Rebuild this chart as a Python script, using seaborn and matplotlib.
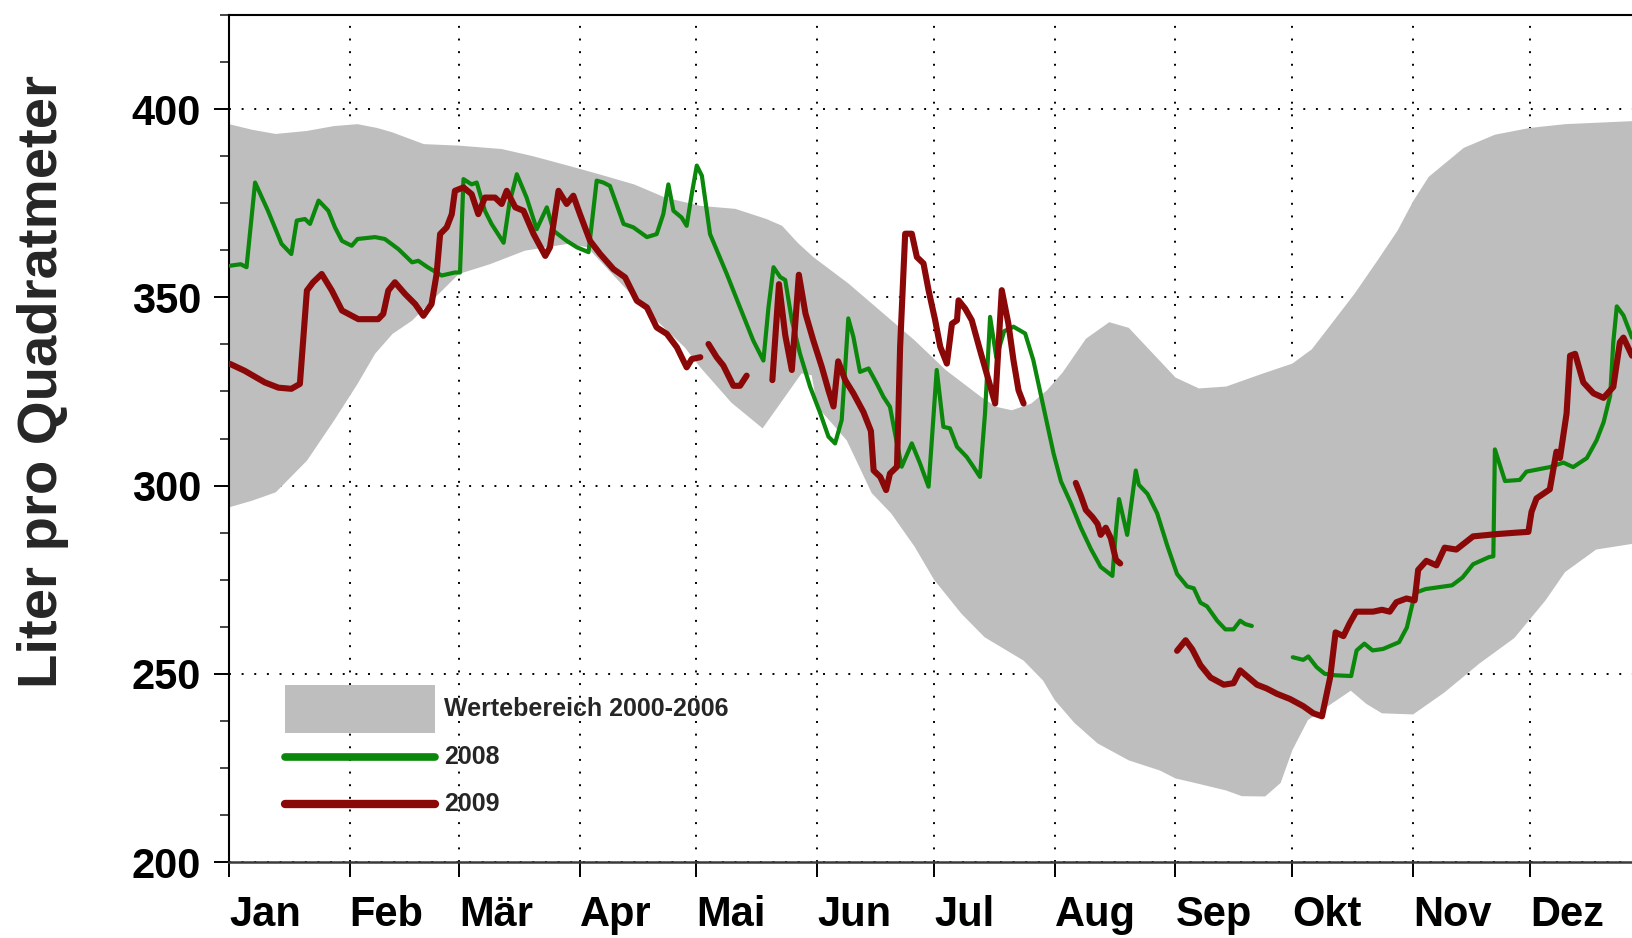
import numpy as np
import pandas as pd
import matplotlib
matplotlib.use("Agg")
import matplotlib.pyplot as plt
from matplotlib.ticker import MultipleLocator, FixedLocator
from matplotlib.patches import Patch
from matplotlib.lines import Line2D
import seaborn as sns

# ---------------- data ----------------
month_days = [0, 31, 59, 90, 120, 151, 181, 212, 243, 273, 304, 334]
month_labels = ["Jan", "Feb", "Mär", "Apr", "Mai", "Jun", "Jul", "Aug", "Sep", "Okt", "Nov", "Dez"]
y_ticks = [200, 250, 300, 350, 400]

band_upper_days = [0, 6, 12, 20, 27, 33, 38, 42, 50, 59, 70, 78, 87, 95, 104, 112, 121, 130, 138, 142,
                   146, 150, 159, 167, 176, 184, 193, 197, 201, 206, 210, 214, 220, 226, 231, 237, 243,
                   249, 256, 265, 273, 278, 283, 289, 295, 300, 304, 308, 317, 325, 334, 343, 360.2]
band_upper_vals = [396, 394.5, 393.4, 394.2, 395.5, 396, 395, 393.8, 390.7, 390.3, 389.4, 387.5, 385,
                   382.7, 380, 376.5, 374.3, 373.5, 370.8, 369, 364.5, 360.7, 353.7, 346.6, 338.6, 330.7,
                   323.6, 320.9, 320, 321.8, 325.3, 330, 339, 343.4, 341.9, 335.3, 328.7, 325.8, 326.3,
                   329.6, 332.4, 336.2, 342.9, 351, 360, 367.7, 375.5, 382, 389.7, 393.2, 395, 396, 396.8]

band_lower_days = [0, 6, 12, 20, 27, 33, 37.5, 42, 47, 52, 59, 67, 76, 87, 92, 100, 108, 117, 121, 129,
                   137, 147, 149.6, 151, 158.6, 165, 170, 176, 181, 188, 194, 204, 209, 212, 217, 223,
                   231, 239, 243, 248, 256, 260, 266, 270, 273, 277, 283, 288, 292, 296, 304, 312, 321,
                   330, 338, 343, 347, 351, 360.2]
band_lower_vals = [294.2, 296, 298.2, 306.6, 317.3, 327, 335, 340.3, 343.8, 349, 356.2, 358.8, 362.4,
                   364.2, 363.3, 354.4, 345.6, 336.7, 331.4, 322, 315.2, 329.8, 329.3, 321, 312, 298,
                   292.6, 283.8, 275, 266, 259.7, 253.5, 248.2, 243, 237, 231.5, 227, 224.3, 222.2, 221,
                   219, 217.5, 217.4, 221, 229.7, 237.7, 242, 245.5, 242, 239.5, 239.2, 245, 252.7,
                   259.5, 269.5, 277, 280, 283, 284.5]

# 2008 (two segments)
g08_days_a = [0.3, 3, 4.5, 6.7, 10, 13.5, 16, 17.4, 19.5, 20.8, 23, 25.5, 27.2, 29, 31.5, 33, 37.5, 40,
              43.5, 47, 48.6, 51, 54.6, 58, 59.3, 60.2, 62.3, 63.6, 65.7, 67.4, 70.5, 72, 73.9, 76.4,
              79, 81.6, 83.3, 86.7, 89.3, 92.3, 94.4, 96.1, 97.8, 101.3, 103.8, 107.3, 109.8, 111.5,
              112.8, 114.1, 116.2, 117.5, 118.8, 120.1, 121.4, 123.5, 127.8, 131.2, 134.6, 137.2,
              138.5, 139.8, 141.5, 142.8, 144.5, 146.6, 149.2, 151.8, 153.9, 155.6, 157.3, 158.2, 159,
              160.3, 162, 164.2, 166.3, 168, 169.7, 171, 172.7, 175.3, 177.4, 179.6, 181.7, 183.4,
              185.1, 186.9, 189.4, 191.1, 192.8, 194.1, 195.4, 197, 199, 201.4, 204.4, 206.5, 209.1,
              211.7, 213.6, 216.1, 218.7, 221.3, 223.8, 226.8, 227.7, 228.5, 230.6, 232.8, 233.6,
              235.8, 238.3, 240.9, 243.4, 246, 247.7, 249.4, 251.1, 253.7, 255.8, 257.9, 259.6,
              260.9, 262.6]
g08_vals_a = [358.4, 358.8, 358, 380.5, 373, 364.2, 361.5, 370.4, 370.8, 369.5, 375.7, 373, 368.6, 365,
              363.7, 365.5, 366, 365.5, 362.8, 359.3, 359.7, 358, 355.8, 356.6, 356.6, 381.4, 380,
              380.5, 373, 369.5, 364.5, 375, 382.7, 376.5, 368.1, 373.9, 367.7, 365, 363.3, 362, 381,
              380.5, 379.6, 369.5, 368.6, 366, 366.8, 372.1, 380, 373, 371.2, 369, 377.4, 385, 382.3,
              366.8, 356.2, 347.3, 338.5, 333.2, 347.3, 358, 355.4, 354.6, 343.9, 335, 326.2, 319.2,
              313, 311.2, 317.4, 331.5, 344.4, 339.5, 330.2, 331.1, 327.1, 323.6, 320.9, 313.8, 305,
              311.2, 305.9, 299.7, 330.7, 315.6, 315.2, 310.3, 307.6, 305, 302.3, 319.2, 344.8, 334,
              341, 342.2, 340.4, 333.3, 320.9, 308.5, 301.1, 295.4, 288.8, 283.1, 278.4, 276, 287.9,
              296.4, 286.9, 304, 300.2, 297.8, 292.6, 284, 276.5, 273.2, 272.7, 268.9, 267.9, 264.1,
              261.8, 261.8, 264.1, 263.2, 262.7]
g08_days_b = [273.1, 275.8, 277.1, 279.2, 281.3, 284, 288.1, 289.5, 291.5, 293.6, 296.3, 300.4, 302.4,
              304.5, 307.2, 314, 316.7, 319.4, 323.5, 324.6, 325, 327.6, 331.4, 333.1, 339.1, 342.6,
              345.1, 348.6, 351.1, 352.9, 354.6, 355.4, 356.3, 358, 360.2]
g08_vals_b = [254.4, 253.7, 254.6, 251.8, 250, 249.6, 249.4, 256.2, 258, 256.2, 256.6, 258.4, 262.3,
              271.5, 272.5, 273.5, 275.6, 279.1, 281, 281.2, 309.6, 301.2, 301.5, 303.7, 304.9, 306.1,
              304.9, 307.3, 312, 316.8, 323.9, 338.1, 347.6, 345.2, 339.3]

# 2009 (five segments)
r09_days_a = [0.3, 4, 9.2, 12.7, 16, 18.2, 20, 21.6, 23.8, 26.4, 29, 33.2, 38.3, 39.6, 40.9, 42.6, 45.2,
              47.8, 49.9, 52, 53.3, 54.2, 55.9, 57.2, 58, 60.2, 62.3, 64, 65.7, 68.3, 70, 71.3, 73.5,
              75.6, 78.2, 81.2, 82.4, 84.6, 86.7, 88.4, 90.1, 92.7, 95.3, 98.7, 101.7, 104.7, 107.3,
              109.8, 112.4, 115, 117.5, 118.8, 121]
r09_vals_a = [332.3, 330.5, 327.4, 326, 325.7, 327, 351.8, 354, 356.2, 351.8, 346.5, 344.2, 344.2,
              345.6, 351.8, 354, 350.9, 348.2, 345.1, 348.2, 356.2, 366.8, 368.6, 372.1, 378.3, 379.2,
              377.4, 372.1, 376.5, 376.5, 374.8, 378.3, 373.9, 373, 366.8, 361, 363.3, 378.3, 374.8,
              377, 372.1, 365, 361.5, 357.5, 355.3, 349.1, 347.3, 342, 340.3, 336.7, 331.4, 333.6,
              334.1]
r09_days_b = [123.1, 125.2, 126.9, 129.5, 131.2, 132.9]
r09_vals_b = [337.6, 334.1, 331.9, 326.5, 326.5, 329.2]
r09_days_c = [139.5, 141.2, 142.8, 144.5, 146.3, 148, 150, 152.2, 153.9, 155.2, 156.4, 158.2, 160.3,
              162.9, 164.8, 165.5, 167.2, 168.7, 169.7, 171.5, 172.3, 173.6, 175.3, 176.6, 178.3,
              179.6, 181.3, 182.6, 184.3, 185.6, 186.9, 187.3, 189, 190.7, 192.8, 195, 196.7, 198.4,
              200.1, 201.4, 202.7, 204]
r09_vals_c = [328, 353.5, 340, 330.7, 356, 345.7, 338.6, 331.5, 325.3, 321, 333, 328, 324.5, 319.5,
              314.5, 304, 302.3, 298.8, 303.2, 305, 336.9, 366.9, 366.9, 360.7, 359, 351.9, 343.9,
              336.9, 332.4, 343, 343.9, 349.2, 347, 343.9, 336, 328, 321.8, 351.9, 343, 333.3, 325.3,
              321.8]
r09_days_d = [217.4, 218.7, 220, 221.7, 223, 223.8, 225.1, 226.4, 227.7, 228.8]
r09_vals_d = [300.7, 297.3, 293.5, 291.6, 289.8, 286.9, 288.8, 286, 280.3, 279.3]
r09_days_e = [243.4, 245.6, 247.3, 249.4, 252, 255.4, 257.9, 259.6, 261.3, 263.9, 266.4, 269, 272.4,
              275.8, 278.4, 280.6, 282.7, 284.1, 286.1, 287.7, 289.4, 293.7, 296, 298, 299.7, 302.3,
              304.4, 305.3, 307.4, 310, 312.1, 315.1, 319.4, 325.4, 330.6, 333.6, 334.4, 335.7, 339.1,
              340.8, 341.7, 343.4, 344.3, 345.6, 347.7, 350.3, 352.9, 355.4, 357.1, 358, 360.2]
r09_vals_e = [256.1, 258.9, 256.5, 252.3, 249, 247.1, 247.5, 250.9, 249.4, 247.1, 246.1, 244.7, 243.3,
              241.4, 239.5, 238.7, 249, 261, 260, 263.4, 266.5, 266.5, 267, 266.5, 269, 270, 269.5,
              277.6, 280, 278.8, 283.5, 283, 286.5, 287.1, 287.5, 287.7, 293, 296.6, 299, 309, 307.3,
              319.1, 334.5, 335, 327.4, 324.5, 323.3, 326.2, 338.1, 339.3, 334.5]

band_label = "Wertebereich 2000-2006"
label_2008 = "2008"
label_2009 = "2009"
y_label = "Liter pro Quadratmeter"

# ---------------- style ----------------
GREEN = "#0b870b"
RED = "#8a0808"
GREY = "#bebebe"
FONT = ["Liberation Sans", "DejaVu Sans"]

sns.set_style("white")
plt.rcParams["font.family"] = FONT
plt.rcParams["font.weight"] = "bold"


def seg_frame(parts):
    frames = []
    for i, (d, v) in enumerate(parts):
        frames.append(pd.DataFrame({"day": d, "value": v, "seg": i}))
    return pd.concat(frames, ignore_index=True)


df08 = seg_frame([(g08_days_a, g08_vals_a), (g08_days_b, g08_vals_b)])
df09 = seg_frame([(r09_days_a, r09_vals_a), (r09_days_b, r09_vals_b), (r09_days_c, r09_vals_c),
                  (r09_days_d, r09_vals_d), (r09_days_e, r09_vals_e)])

fig = plt.figure(figsize=(16.32, 9.38), dpi=100)
ax = fig.add_axes([229 / 1632, 76 / 938, 1403 / 1632, 847 / 938])

ax.set_axisbelow(True)
ax.grid(True, which="major", color="black", linestyle=(0, (1, 5.5)), linewidth=1.4)

ax.fill(np.concatenate([band_upper_days, band_lower_days[::-1]]),
        np.concatenate([band_upper_vals, band_lower_vals[::-1]]),
        color=GREY, linewidth=0, zorder=1)

sns.lineplot(data=df08, x="day", y="value", units="seg", estimator=None, sort=False,
             color=GREEN, linewidth=3.0, ax=ax, zorder=3)
sns.lineplot(data=df09, x="day", y="value", units="seg", estimator=None, sort=False,
             color=RED, linewidth=4.4, ax=ax, zorder=4)
for ln in ax.get_lines():
    ln.set_solid_joinstyle("round")
    ln.set_solid_capstyle("round")

ax.set_xlim(0, 360.2)
ax.set_ylim(200, 425)
ax.set_xlabel("")
ax.set_ylabel("")

ax.xaxis.set_major_locator(FixedLocator(month_days))
ax.set_xticklabels(month_labels)
for lbl in ax.get_xticklabels():
    lbl.set_horizontalalignment("left")
ax.yaxis.set_major_locator(FixedLocator(y_ticks))
ax.yaxis.set_minor_locator(MultipleLocator(12.5))
ax.set_yticklabels([str(t) for t in y_ticks])

ax.tick_params(axis="both", which="major", direction="out", length=11, width=1.4,
               labelsize=30, colors="black")
ax.tick_params(axis="x", pad=13, bottom=True)
ax.tick_params(axis="y", pad=9, left=True)
ax.tick_params(axis="y", which="minor", direction="out", length=6.5, width=1.2, left=True)
for lbl in ax.get_xticklabels() + ax.get_yticklabels():
    lbl.set_fontweight("bold")

for side in ["top", "left"]:
    ax.spines[side].set_color("black")
    ax.spines[side].set_linewidth(1.5)
ax.spines["bottom"].set_color("#3a3a3a")
ax.spines["bottom"].set_linewidth(1.8)
ax.spines["right"].set_visible(False)

handles = [Patch(facecolor=GREY, edgecolor="none"),
           Line2D([0], [0], color=GREEN, linewidth=5.5, solid_capstyle="round"),
           Line2D([0], [0], color=RED, linewidth=6.0, solid_capstyle="round")]
leg = ax.legend(handles, [band_label, label_2008, label_2009], loc="upper left",
                bbox_to_anchor=(0.0399, 0.209), borderaxespad=0, borderpad=0, frameon=False,
                handlelength=6.0, handleheight=2.55, handletextpad=0.36, labelspacing=0.0,
                prop={"family": FONT, "weight": "bold", "size": 18})
# centre the legend line handles on their labels
for lh in leg.get_lines():
    lh.set_ydata(np.asarray(lh.get_ydata(), dtype=float) - 6.0)

fig.text(43 / 1632, 1 - 382 / 938, y_label, rotation=90, ha="center", va="center",
         fontsize=40.5, fontweight="bold", family=FONT)

fig.savefig("out.png", dpi=100)
